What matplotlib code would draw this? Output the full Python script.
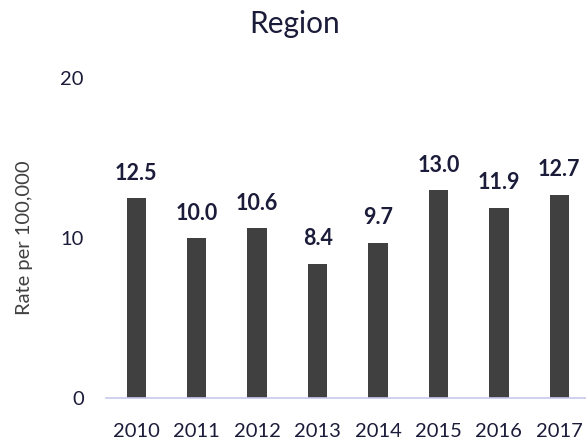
import matplotlib.pyplot as plt

years = ["2010", "2011", "2012", "2013", "2014", "2015", "2016", "2017"]
rates = [12.5, 10.0, 10.6, 8.4, 9.7, 13.0, 11.9, 12.7]
labels = ["12.5", "10.0", "10.6", "8.4", "9.7", "13.0", "11.9", "12.7"]

TEXT = "#1b1b3a"
BAR = "#404040"

plt.rcParams["font.family"] = ["Lato", "DejaVu Sans"]

fig = plt.figure(figsize=(5.86, 4.43), dpi=100)
ax = fig.add_axes([0.181, 0.1016, 0.825, 0.722])

x = range(len(years))
ax.bar(x, rates, width=0.32, color=BAR)
for xi, v, lab in zip(x, rates, labels):
    ax.text(xi, v + 0.9, lab, ha="center", va="bottom", fontsize=15.5,
            fontweight="bold", color=TEXT)

ax.set_xlim(-0.5, 7.5)
ax.set_ylim(0, 20)
ax.set_yticks([0, 10, 20])
ax.set_xticks(list(x))
ax.set_xticklabels(years)
ax.tick_params(length=0, labelsize=14.5, colors=TEXT)
ax.tick_params(axis="x", pad=18)
ax.tick_params(axis="y", pad=16)
for side in ["top", "right", "left"]:
    ax.spines[side].set_visible(False)
ax.spines["bottom"].set_color("#c9c7ec")
ax.spines["bottom"].set_linewidth(1.2)

ax.set_ylabel("Rate per 100,000", fontsize=14.5, color="#404040", labelpad=20)
fig.text(0.503, 0.945, "Region", ha="center", va="center", fontsize=21.5, color=TEXT)

fig.savefig("out.png", dpi=100)
